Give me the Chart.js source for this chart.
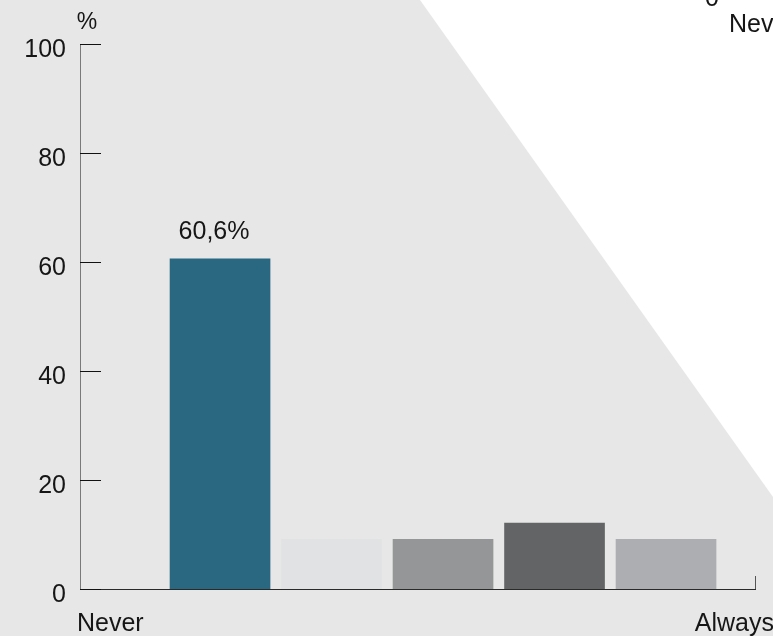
<!DOCTYPE html>
<html>
<head>
<meta charset="utf-8">
<script src="https://cdn.jsdelivr.net/npm/chart.js@4"></script>
<style>
	html, body { margin: 0; padding: 0; background: #fff; }
	#wrap { width: 773px; height: 636px; }
</style>
</head>
<body>
<div id="wrap"><canvas id="freqChart" width="773" height="636"></canvas></div>
<script>
// answer scale positions 1..5, from "Never" to "Always"
const positions = [1, 2, 3, 4, 5];
const shares = [60.6, 9.1, 9.1, 12.1, 9.1];
const barLabels = ['60,6%', '', '', '', ''];
const barColors = ['#2a6882', '#e1e2e4', '#959698', '#636466', '#adaeb1'];
const yTicks = [0, 20, 40, 60, 80, 100];
const endLabels = ['Never', 'Always'];

Chart.defaults.font.family = "'Liberation Sans', Arial, sans-serif";
Chart.defaults.font.size = 25;
Chart.defaults.color = '#161616';

const freqChart = document.querySelector('#freqChart');

const backdrop = {
	id: 'backdrop',
	beforeDraw(chart) {
		const ctx = chart.ctx;
		ctx.save();
		ctx.fillStyle = '#fff';
		ctx.fillRect(0, 0, chart.width, chart.height);
		ctx.fillStyle = '#e6e7e6';
		ctx.beginPath();
		ctx.moveTo(0, 0);
		ctx.lineTo(420, 0);
		ctx.lineTo(773, 497);
		ctx.lineTo(773, 636);
		ctx.lineTo(0, 636);
		ctx.closePath();
		ctx.fill();
		ctx.restore();
	}
};

const decorations = {
	id: 'decorations',
	afterDraw(chart) {
		const ctx = chart.ctx;
		const x = chart.scales.x;
		const y = chart.scales.y;
		ctx.save();
		// inward ticks on the y axis
		ctx.strokeStyle = '#111';
		ctx.lineWidth = 1;
		for (const t of yTicks) {
			const py = Math.round(y.getPixelForValue(t)) + 0.5;
			ctx.beginPath();
			ctx.moveTo(x.left, py);
			ctx.lineTo(x.left + 21, py);
			ctx.stroke();
		}
		// small end mark on the right of the x axis
		ctx.strokeStyle = '#555';
		ctx.beginPath();
		ctx.moveTo(x.right + 0.5, y.bottom - 13);
		ctx.lineTo(x.right + 0.5, y.bottom);
		ctx.stroke();

		// unit
		ctx.fillStyle = '#161616';
		ctx.font = "23px 'Liberation Sans', Arial, sans-serif";
		ctx.textAlign = 'center';
		ctx.textBaseline = 'alphabetic';
		ctx.fillText('%', x.left + 7, 29);

		// end labels of the scale
		ctx.font = "25px 'Liberation Sans', Arial, sans-serif";
		ctx.textAlign = 'left';
		ctx.fillText(endLabels[0], x.left - 3, 631);
		ctx.textAlign = 'right';
		ctx.fillText(endLabels[1], chart.width + 1, 631);

		// value labels over bars
		ctx.textAlign = 'center';
		const meta = chart.getDatasetMeta(0);
		meta.data.forEach((bar, i) => {
			if (barLabels[i]) ctx.fillText(barLabels[i], bar.x - 6, bar.y - 20);
		});

		// piece of the neighbouring chart
		ctx.textAlign = 'left';
		ctx.fillText('0', 705, 6);
		ctx.fillText(endLabels[0], 729, 32);
		ctx.restore();
	}
};

new Chart(freqChart, {
	type: 'bar',
	data: {
		datasets: [
			{
				data: positions.map((p, i) => ({ x: p, y: shares[i] })),
				backgroundColor: barColors,
				borderWidth: 0,
				barThickness: 100
			}
		]
	},
	options: {
		responsive: false,
		animation: false,
		layout: {
			padding: { top: 44, right: 18, left: 0, bottom: 0 }
		},
		plugins: {
			legend: { display: false },
			tooltip: { enabled: false }
		},
		scales: {
			x: {
				type: 'linear',
				offset: false,
				min: -0.256,
				max: 5.798,
				grid: { display: false },
				border: { display: true, color: '#2a2a2a', width: 1 },
				ticks: { display: false },
				afterFit: (scale) => { scale.height = 47; }
			},
			y: {
				min: 0,
				max: 100,
				afterBuildTicks: (scale) => { scale.ticks = yTicks.map(v => ({ value: v })); },
				grid: { display: false, drawTicks: false },
				border: { display: true, color: '#7a7a7a', width: 1 },
				ticks: {
					padding: 14,
					labelOffset: 6,
					color: '#161616',
					font: { size: 25 }
				},
				afterFit: (scale) => { scale.width = 80; }
			}
		}
	},
	plugins: [backdrop, decorations]
});
</script>
</body>
</html>
